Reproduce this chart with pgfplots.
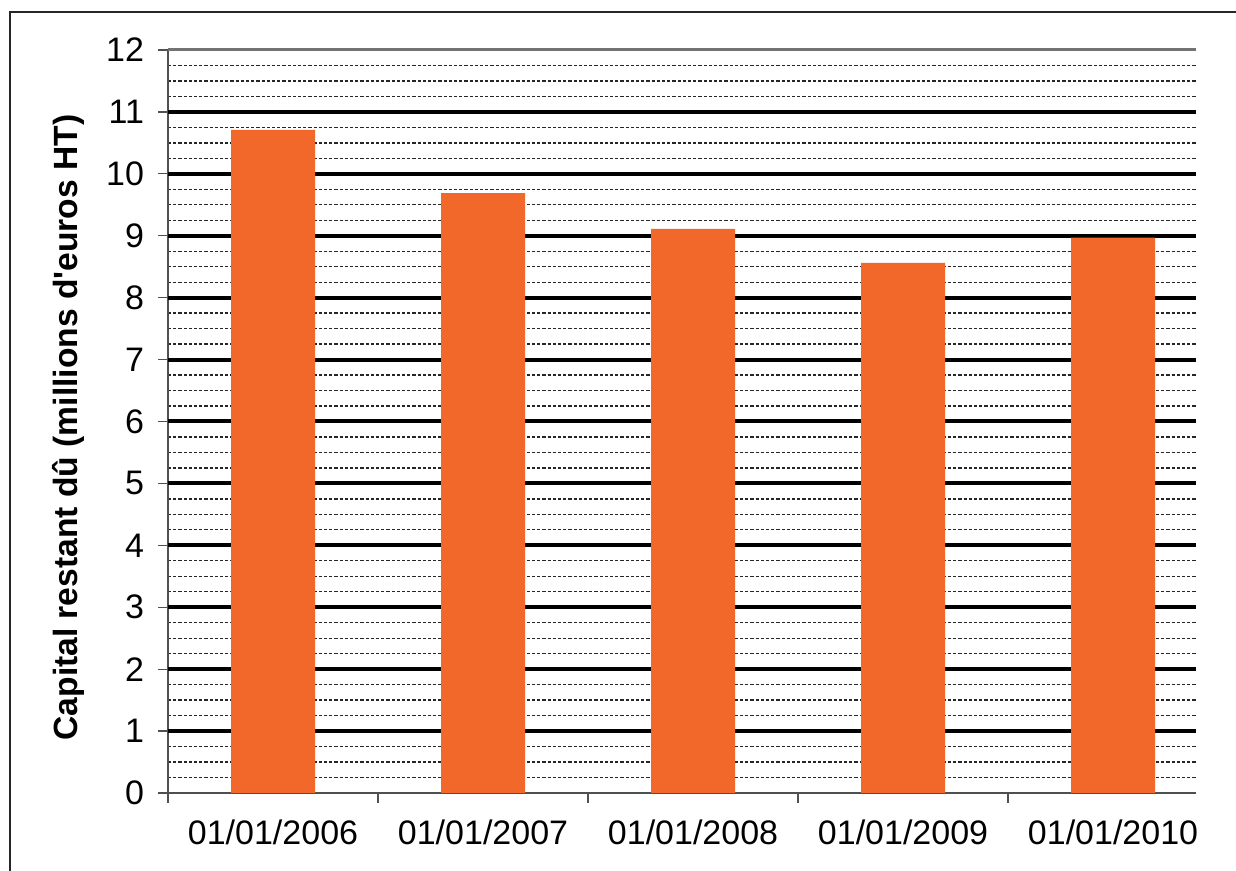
\documentclass[border=0pt]{standalone}
\usepackage{fontspec}
\setmainfont{Liberation Sans}
\usepackage{pgfplots}
\pgfplotsset{compat=1.18}
\definecolor{barorange}{RGB}{242,103,42}
\definecolor{axisgray}{RGB}{80,80,80}
\begin{document}
\begin{tikzpicture}[x=1pt,y=1pt]
\useasboundingbox (0,0) rectangle (618,435.5);
% outer chart frame
\draw[line width=1pt, black!85] (5,-2) -- (5,429.5) -- (620,429.5);
\begin{axis}[
  at={(84pt,39pt)}, anchor=south west,
  scale only axis, width=514pt, height=371.5pt,
  xmin=0, xmax=4.895, ymin=0, ymax=12,
  axis lines*=left,
  axis line style={draw=axisgray, line width=1pt},
  /pgf/number format/assume math mode=true,
  tick align=outside,
  % y axis: labelled ticks, thick grid at whole units, dashed grid at quarters
  ytick={0,...,12},
  major tick length=5pt,
  tick style={draw=axisgray, line width=0.6pt},
  minor y tick num=3,
  minor tick length=0pt,
  yminorgrids,
  minor grid style={draw=black!85, line width=0.65pt, dash pattern=on 1.6pt off 1pt},
  extra y ticks={1,...,11},
  extra y tick labels={},
  extra y tick style={ymajorgrids=true, major tick length=0pt,
    major grid style={draw=black, line width=2pt}},
  yticklabel style={font=\fontsize{17}{20}\selectfont, anchor=east, xshift=-3.5pt},
  % x axis: marks between categories, names centred under the bars
  xtick={0,1,2,3,4},
  xticklabels={},
  extra x ticks={0.5,1.5,2.5,3.5,4.5},
  extra x tick labels={01/01/2006,01/01/2007,01/01/2008,01/01/2009,01/01/2010},
  extra x tick style={major tick length=0pt},
  xticklabel style={font=\fontsize{17}{20}\selectfont, anchor=north, yshift=-10pt},
  ylabel={\bfseries Capital restant dû (millions d\textquotesingle euros HT)},
  ylabel style={font=\fontsize{16.8}{19}\selectfont, at={(rel axis cs:0,0.5)},
    anchor=center, yshift=50pt, xshift=-3pt},
  clip=false,
]
\addplot[ybar, bar width=0.40, fill=barorange, draw=none]
  coordinates {(0.5,10.71) (1.5,9.69) (2.5,9.11) (3.5,8.56) (4.5,8.97)};
\draw[draw=black!55, line width=1.5pt] (axis cs:0,12) -- (axis cs:4.895,12);
\end{axis}
\end{tikzpicture}
\end{document}
